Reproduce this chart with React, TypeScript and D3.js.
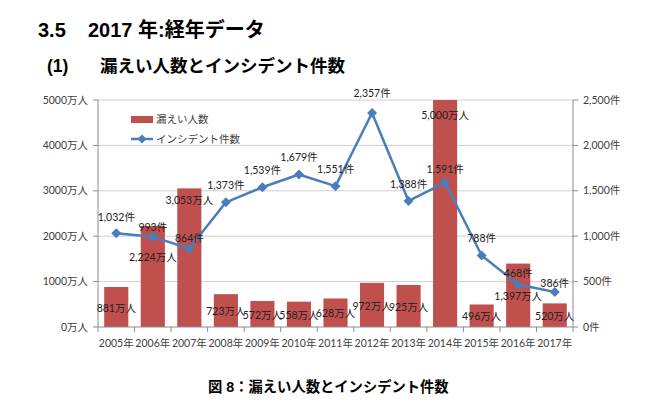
import React from "react";
import * as d3 from "d3";

const years = ["2005年","2006年","2007年","2008年","2009年","2010年","2011年","2012年","2013年","2014年","2015年","2016年","2017年"];
const leakedPeople = [881, 2224, 3053, 723, 572, 558, 628, 972, 925, 5000, 496, 1397, 520];
const incidents = [1032, 993, 864, 1373, 1539, 1679, 1551, 2357, 1388, 1591, 788, 468, 386];
const leftTicks = [0, 1000, 2000, 3000, 4000, 5000];
const rightTicks = [0, 500, 1000, 1500, 2000, 2500];

// label placement tweaks (annotation layout, px)
const barLabelFromTop: Record<number, number> = { 1: 31, 2: 12, 9: 15 };
const lineLabelDy: Record<number, number> = { 0: -16, 1: -10, 2: -10, 7: -20, 9: -13, 11: -11, 12: -9 };

const W = 650, H = 411;
const M = { left: 98, right: 573, top: 100, bottom: 327 };
const FONT = "Lato, 'Noto Sans CJK JP', sans-serif";
const TITLE = "'Liberation Sans', Arial, 'Noto Sans CJK JP', sans-serif";

export default function App() {
  const x = d3.scaleBand<string>().domain(years).range([M.left, M.right]).paddingInner(0.34).paddingOuter(0.17);
  const yL = d3.scaleLinear().domain([0, 5000]).range([M.bottom, M.top]);
  const yR = d3.scaleLinear().domain([0, 2500]).range([M.bottom, M.top]);
  const step = (M.right - M.left) / years.length;
  const cx = (i: number) => (x(years[i]) as number) + x.bandwidth() / 2;
  const line = d3.line<number>().x((_, i) => cx(i)).y((d) => yR(d));
  const fmt = d3.format(",");
  const axisColor = "#8c8c8c";
  const gridColor = "#cfcfcf";
  const red = "#C0504D";
  const blue = "#4A7EBB";

  const diamond = (px: number, py: number, r: number) =>
    `M${px},${py - r}L${px + r},${py}L${px},${py + r}L${px - r},${py}Z`;

  return (
    <svg width={W} height={H} style={{ position: "absolute", left: 0, top: 0, background: "#fff" }}>
      {/* titles */}
      <text x={38} y={37} fontFamily={TITLE} fontWeight="bold" fontSize={20} fill="#000">
        3.5<tspan x={88}>2017 年:経年データ</tspan>
      </text>
      <text x={47} y={72} fontFamily={TITLE} fontWeight="bold" fontSize={17.5} fill="#000">
        (1)<tspan x={100}>漏えい人数とインシデント件数</tspan>
      </text>

      {/* gridlines */}
      {leftTicks.filter((t) => t > 0).map((t) => (
        <line key={t} x1={M.left} x2={M.right} y1={yL(t)} y2={yL(t)} stroke={gridColor} strokeWidth={1} />
      ))}

      {/* bars */}
      {leakedPeople.map((v, i) => (
        <rect key={i} x={x(years[i])} y={yL(v)} width={x.bandwidth()} height={yL(0) - yL(v)} fill={red} />
      ))}

      {/* axes */}
      <line x1={M.left} x2={M.left} y1={M.top} y2={M.bottom} stroke={axisColor} />
      <line x1={M.right} x2={M.right} y1={M.top} y2={M.bottom} stroke={axisColor} />
      <line x1={M.left} x2={M.right} y1={M.bottom} y2={M.bottom} stroke={axisColor} />
      {leftTicks.map((t) => (
        <g key={"l" + t}>
          <line x1={M.left - 5} x2={M.left} y1={yL(t)} y2={yL(t)} stroke={axisColor} />
          <text x={M.left - 10} y={yL(t)} dy="0.35em" textAnchor="end" fontFamily={FONT} fontSize={10.5} fill="#404040">
            {t}万人
          </text>
        </g>
      ))}
      {rightTicks.map((t) => (
        <g key={"r" + t}>
          <line x1={M.right} x2={M.right + 5} y1={yR(t)} y2={yR(t)} stroke={axisColor} />
          <text x={M.right + 10} y={yR(t)} dy="0.35em" textAnchor="start" fontFamily={FONT} fontSize={10.5} fill="#404040">
            {fmt(t)}件
          </text>
        </g>
      ))}
      {d3.range(years.length + 1).map((i) => (
        <line key={"xt" + i} x1={M.left + i * step} x2={M.left + i * step} y1={M.bottom} y2={M.bottom + 5} stroke={axisColor} />
      ))}
      {years.map((yr, i) => (
        <text key={yr} x={cx(i)} y={M.bottom + 16} dy="0.35em" textAnchor="middle" fontFamily={FONT} fontSize={10.5} fill="#404040">
          {yr}
        </text>
      ))}

      {/* line */}
      <path d={line(incidents) as string} fill="none" stroke={blue} strokeWidth={2.5} strokeLinejoin="round" />
      {incidents.map((v, i) => (
        <path key={"m" + i} d={diamond(cx(i), yR(v), 5)} fill={blue} />
      ))}

      {/* bar labels */}
      {leakedPeople.map((v, i) => {
        const top = yL(v);
        const yy = barLabelFromTop[i] !== undefined ? top + barLabelFromTop[i] : (top + yL(0)) / 2 + 1;
        return (
          <text key={"bl" + i} x={cx(i)} y={yy} dy="0.35em" textAnchor="middle" fontFamily={FONT} fontSize={10.5} fill="#222">
            {fmt(v)}万人
          </text>
        );
      })}

      {/* line labels */}
      {incidents.map((v, i) => (
        <text key={"ll" + i} x={cx(i)} y={yR(v) + (lineLabelDy[i] ?? -17)} dy="0.35em" textAnchor="middle" fontFamily={FONT} fontSize={10.5} fill="#222">
          {fmt(v)}件
        </text>
      ))}

      {/* legend */}
      <rect x={131} y={116} width={22} height={7} fill={red} />
      <text x={156} y={119.5} dy="0.35em" fontFamily={FONT} fontSize={10.5} fill="#404040">漏えい人数</text>
      <line x1={131} x2={153} y1={139} y2={139} stroke={blue} strokeWidth={2.5} />
      <path d={diamond(142, 139, 4.5)} fill={blue} />
      <text x={156} y={139} dy="0.35em" fontFamily={FONT} fontSize={10.5} fill="#404040">インシデント件数</text>

      {/* caption */}
      <text x={208} y={387} dy="0.35em" fontFamily={TITLE} fontWeight="bold" fontSize={14.3} fill="#000">
        図 8：漏えい人数とインシデント件数
      </text>
    </svg>
  );
}
